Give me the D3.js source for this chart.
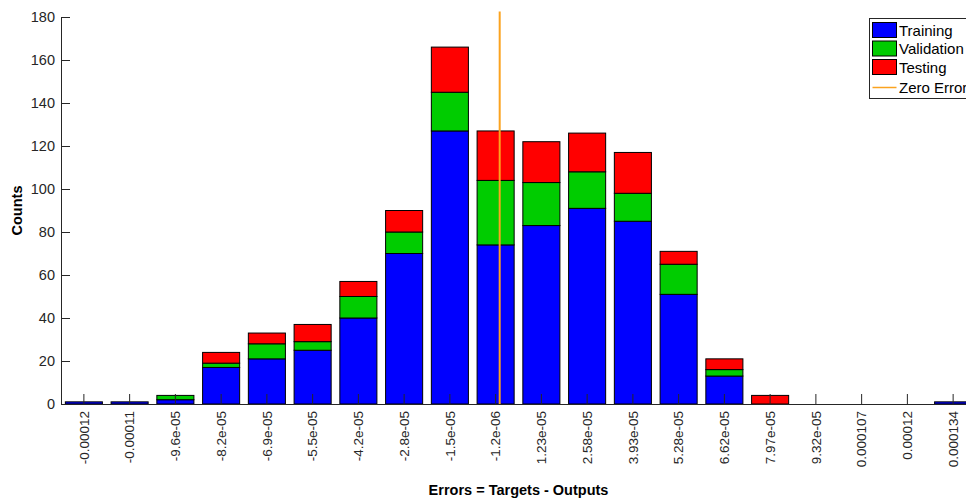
<!DOCTYPE html>
<html>
<head>
<meta charset="utf-8">
<script src="https://cdn.jsdelivr.net/npm/d3@7"></script>
<style>
  html, body { margin: 0; padding: 0; background: #fff; }
  svg { display: block; font-family: "Liberation Sans", Arial, Helvetica, sans-serif; }
</style>
</head>
<body>
<svg id="chart" width="966" height="499"></svg>
<script>
// Error histogram: bin centre labels and per-bin counts
const binLabels = ["-0.00012", "-0.00011", "-9.6e-05", "-8.2e-05", "-6.9e-05", "-5.5e-05",
  "-4.2e-05", "-2.8e-05", "-1.5e-05", "-1.2e-06", "1.23e-05", "2.58e-05", "3.93e-05",
  "5.28e-05", "6.62e-05", "7.97e-05", "9.32e-05", "0.000107", "0.00012", "0.000134"];
const training   = [1, 1, 2, 17, 21, 25, 40, 70, 127, 74, 83, 91, 85, 51, 13, 0, 0, 0, 0, 1];
const validation = [0, 0, 2,  2,  7,  4, 10, 10,  18, 30, 20, 17, 13, 14,  3, 0, 0, 0, 0, 0];
const testing    = [0, 0, 0,  5,  5,  8,  7, 10,  21, 23, 19, 18, 19,  6,  5, 4, 0, 0, 0, 0];
const yTicks = [0, 20, 40, 60, 80, 100, 120, 140, 160, 180];
const seriesNames = ["Training", "Validation", "Testing"];
const seriesColors = ["#0000ff", "#00cc00", "#ff0000"];
const zeroColor = "#fba31f";

const svg = d3.select("#chart");
const plotLeft = 61, plotBottom = 404, plotTop = 17;
const nBins = binLabels.length;
const step = 45.75;

const x = d3.scaleBand()
  .domain(binLabels)
  .range([plotLeft, plotLeft + nBins * step])
  .paddingInner(0.19)
  .paddingOuter(0.095);

const y = d3.scaleLinear().domain([0, 180]).range([plotBottom, plotTop]);

// Stack the three subsets
const rows = binLabels.map((b, i) => ({ bin: b, Training: training[i], Validation: validation[i], Testing: testing[i] }));
const stacked = d3.stack().keys(seriesNames)(rows);

const groups = svg.append("g").selectAll("g")
  .data(stacked)
  .join("g")
  .attr("fill", (d, i) => seriesColors[i]);

groups.selectAll("rect")
  .data(d => d.filter(s => s[1] - s[0] > 0))
  .join("rect")
  .attr("x", d => x(d.data.bin))
  .attr("width", x.bandwidth())
  .attr("y", d => y(d[1]))
  .attr("height", d => y(d[0]) - y(d[1]))
  .attr("stroke", "#000")
  .attr("stroke-width", 1);

// Zero error line, placed on a numeric scale through two bin centres
const cA = +binLabels[9], cB = +binLabels[10];
const xv = d3.scaleLinear()
  .domain([cA, cB])
  .range([x(binLabels[9]) + x.bandwidth() / 2, x(binLabels[10]) + x.bandwidth() / 2]);
const maxTotal = d3.max(rows, r => r.Training + r.Validation + r.Testing);
svg.append("line")
  .attr("x1", xv(0)).attr("x2", xv(0))
  .attr("y1", y(0)).attr("y2", y(maxTotal * 1.1))
  .attr("stroke", zeroColor)
  .attr("stroke-width", 2);

// Y axis
const yAxis = svg.append("g")
  .attr("transform", `translate(${plotLeft},0)`)
  .call(d3.axisLeft(y).tickValues(yTicks).tickSizeInner(-9).tickSizeOuter(0).tickPadding(6));
yAxis.select(".domain").attr("stroke", "#262626");
yAxis.selectAll(".tick line").attr("stroke", "#262626");
yAxis.selectAll("text").attr("font-size", 14.5).attr("fill", "#262626")
  .attr("font-family", "Liberation Sans, Arial, sans-serif");

// X axis
const xAxis = svg.append("g")
  .attr("transform", `translate(0,${plotBottom})`)
  .call(d3.axisBottom(x).tickSizeInner(-10).tickSizeOuter(0).tickPadding(0));
xAxis.select(".domain").attr("stroke", "#262626");
xAxis.selectAll(".tick line").attr("stroke", "#262626");
xAxis.selectAll("text")
  .attr("font-size", 13.5).attr("fill", "#262626")
  .attr("font-family", "Liberation Sans, Arial, sans-serif")
  .attr("text-anchor", "end")
  .attr("dy", "0.35em")
  .attr("transform", "translate(0,7) rotate(-90)")
  .attr("x", 0).attr("y", 0);

// Axis titles
svg.append("text")
  .attr("x", plotLeft + (nBins * step) / 2)
  .attr("y", 495)
  .attr("text-anchor", "middle")
  .attr("font-size", 14.5).attr("font-weight", "bold").attr("fill", "#000")
  .text("Errors = Targets - Outputs");

svg.append("text")
  .attr("transform", `translate(22,${(plotTop + plotBottom) / 2}) rotate(-90)`)
  .attr("text-anchor", "middle")
  .attr("font-size", 14.5).attr("font-weight", "bold").attr("fill", "#000")
  .text("Counts");

// Legend
const lg = svg.append("g").attr("transform", "translate(869.5,18.5)");
lg.append("rect").attr("width", 110).attr("height", 80)
  .attr("fill", "#fff").attr("stroke", "#262626").attr("stroke-width", 1);
seriesNames.forEach((name, i) => {
  const row = lg.append("g").attr("transform", `translate(0,${4 + i * 18.5})`);
  row.append("rect").attr("x", 3).attr("y", 0).attr("width", 24).attr("height", 15)
    .attr("fill", seriesColors[i]).attr("stroke", "#000").attr("stroke-width", 1);
  row.append("text").attr("x", 29.5).attr("y", 13)
    .attr("font-size", 15).attr("fill", "#000").text(name);
});
lg.append("line").attr("x1", 3).attr("x2", 27).attr("y1", 69).attr("y2", 69)
  .attr("stroke", zeroColor).attr("stroke-width", 1.5);
lg.append("text").attr("x", 29.5).attr("y", 74.5)
  .attr("font-size", 15).attr("fill", "#000").text("Zero Error");
</script>
</body>
</html>
